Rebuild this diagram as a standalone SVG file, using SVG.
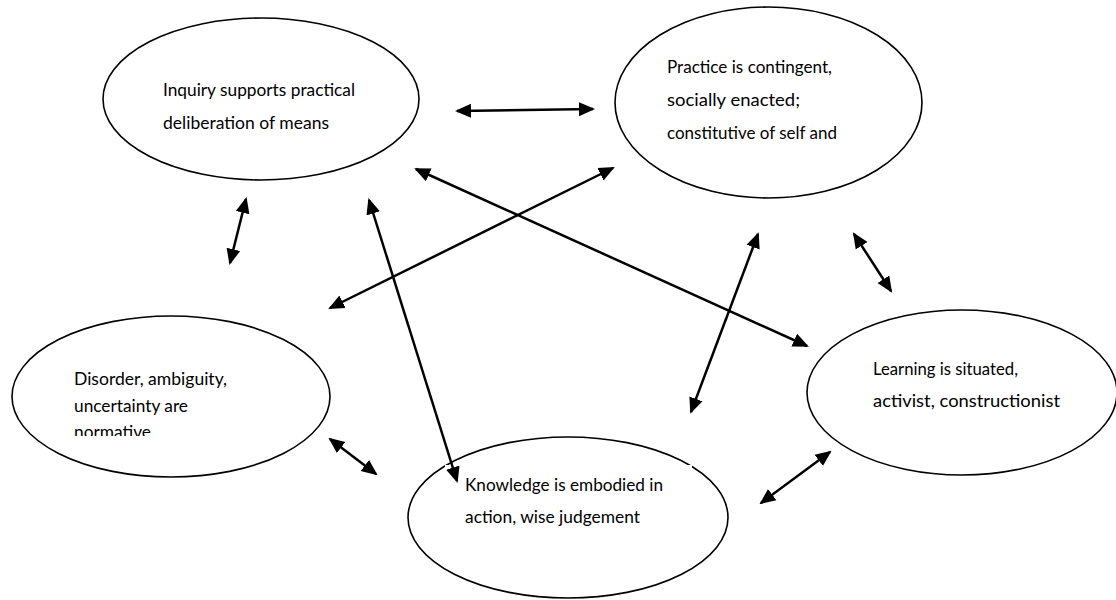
<svg xmlns="http://www.w3.org/2000/svg" width="1116" height="600" viewBox="0 0 1116 600">
  <style>
    .node ellipse { fill: #ffffff; stroke: #000000; stroke-width: 1.6; }
    .node text { font-family: Lato, "Open Sans", "Liberation Sans", sans-serif; font-size: 17px; fill: #000000; }
    .conn line { stroke: #000000; stroke-width: 2.5; marker-start: url(#ah); marker-end: url(#ah); }
  </style>
  <defs>
    <marker id="ah" markerUnits="userSpaceOnUse" markerWidth="16" markerHeight="15" refX="14" refY="7" orient="auto-start-reverse" viewBox="0 0 16 14">
      <path d="M0,0 L16,7 L0,14 z" fill="#000000"/>
    </marker>
    <clipPath id="clipLeft">
      <rect x="60" y="350" width="260" height="86"/>
    </clipPath>
  </defs>
  <rect x="0" y="0" width="1116" height="600" fill="#ffffff"/>

  <g id="node-inquiry" class="node">
    <ellipse cx="261" cy="99" rx="158" ry="81"/>
    <text x="163" y="96" textLength="192" lengthAdjust="spacingAndGlyphs">Inquiry supports practical</text>
    <text x="163" y="129" textLength="166" lengthAdjust="spacingAndGlyphs">deliberation of means</text>
  </g>

  <g id="node-practice" class="node">
    <ellipse cx="768.5" cy="102.5" rx="153.5" ry="95.5"/>
    <text x="667" y="73" textLength="165" lengthAdjust="spacingAndGlyphs">Practice is contingent,</text>
    <text x="667" y="106" textLength="133" lengthAdjust="spacingAndGlyphs">socially enacted;</text>
    <text x="667" y="139" textLength="170" lengthAdjust="spacingAndGlyphs">constitutive of self and</text>
  </g>

  <g id="node-disorder" class="node">
    <ellipse cx="171" cy="396.5" rx="159" ry="80.5"/>
    <g clip-path="url(#clipLeft)">
      <text x="74" y="385" textLength="153" lengthAdjust="spacingAndGlyphs">Disorder, ambiguity,</text>
      <text x="74" y="411.5" textLength="114" lengthAdjust="spacingAndGlyphs">uncertainty are</text>
      <text x="74" y="438" textLength="77" lengthAdjust="spacingAndGlyphs">normative</text>
    </g>
  </g>

  <g id="node-knowledge" class="node">
    <ellipse cx="568" cy="517.5" rx="160" ry="80.5"/>
    <rect x="445" y="465" width="247" height="90" fill="#ffffff"/>
    <text x="465" y="491" textLength="198" lengthAdjust="spacingAndGlyphs">Knowledge is embodied in</text>
    <text x="465" y="523" textLength="175" lengthAdjust="spacingAndGlyphs">action, wise judgement</text>
  </g>

  <g id="node-learning" class="node">
    <ellipse cx="962" cy="392.5" rx="155" ry="82.5"/>
    <text x="873" y="375" textLength="145" lengthAdjust="spacingAndGlyphs">Learning is situated,</text>
    <text x="873" y="407" textLength="187" lengthAdjust="spacingAndGlyphs">activist, constructionist</text>
  </g>

  <g id="connectors" class="conn">
    <line x1="457" y1="111" x2="593" y2="109"/>
    <line x1="246" y1="199" x2="230" y2="263"/>
    <line x1="369" y1="200" x2="457" y2="481"/>
    <line x1="613" y1="168" x2="330" y2="308"/>
    <line x1="416" y1="169" x2="807" y2="346"/>
    <line x1="758" y1="234" x2="691" y2="412"/>
    <line x1="854" y1="234" x2="891" y2="291"/>
    <line x1="330" y1="439" x2="376" y2="474"/>
    <line x1="761" y1="503" x2="830" y2="452"/>
  </g>
</svg>
